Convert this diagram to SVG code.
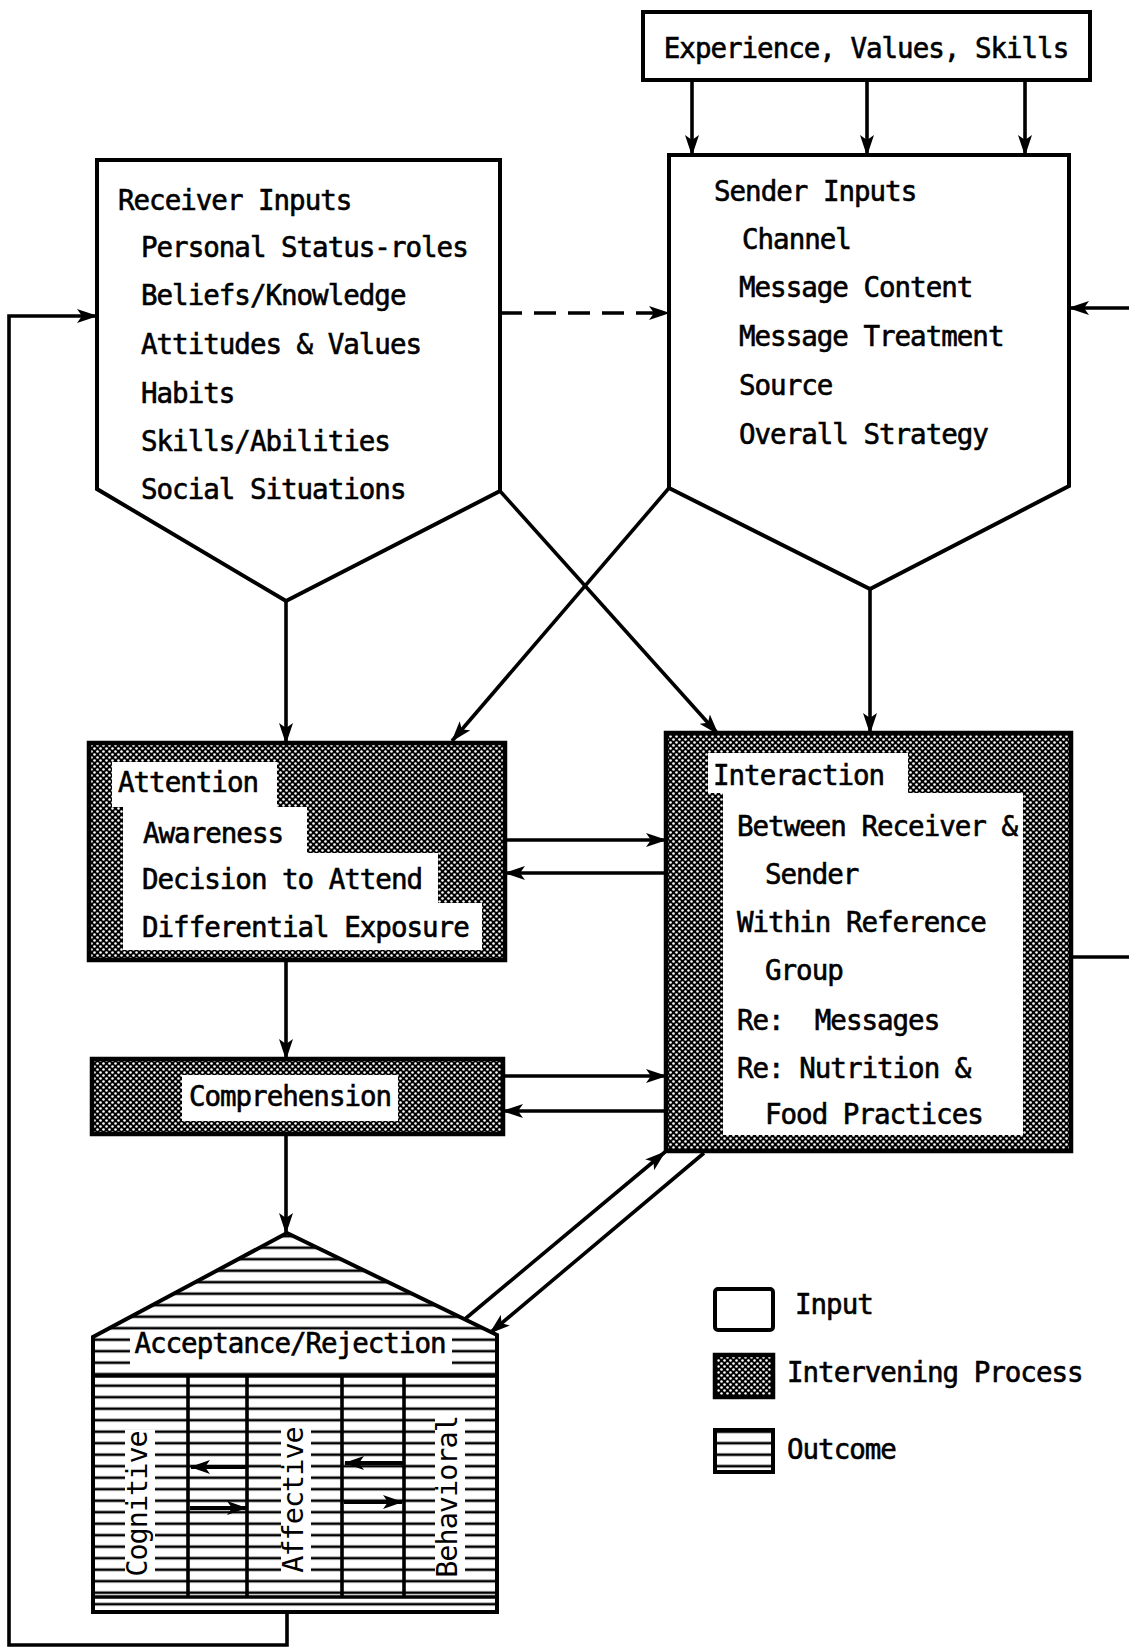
<svg xmlns="http://www.w3.org/2000/svg" width="1129" height="1648" viewBox="0 0 1129 1648">
  <style>
    .t { font-family: "DejaVu Sans Mono", "Liberation Mono", monospace; font-size: 27.5px; letter-spacing: -1px; fill: #000; stroke: #000; stroke-width: 0.6; }
    .box { fill: #fff; stroke: #000; stroke-width: 4; stroke-linejoin: miter; }
    .proc { fill: url(#dots); stroke: #000; stroke-width: 4.5; }
    .hole { fill: #fff; stroke: none; }
    .out { fill: url(#hatch); stroke: #000; stroke-width: 4; }
    .ln { fill: none; stroke: #000; stroke-width: 3.6; }
    .arr { fill: none; stroke: #000; stroke-width: 3.6; marker-end: url(#ah); }
    .arrs { fill: none; stroke: #000; stroke-width: 4; marker-end: url(#ahs); }
    .col { font-family: "DejaVu Sans Mono", "Liberation Mono", monospace; font-size: 28.5px; letter-spacing: -1px; fill: #000; }
  </style>
  <defs>
    <!-- halftone dot screen for intervening processes -->
    <pattern id="dots" patternUnits="userSpaceOnUse" width="6" height="6">
      <rect width="6" height="6" fill="#000"/>
      <circle cx="1.5" cy="1.5" r="1.3" fill="#fff"/>
      <circle cx="4.5" cy="4.5" r="1.3" fill="#fff"/>
    </pattern>
    <!-- horizontal ruling for outcomes -->
    <pattern id="hatch" patternUnits="userSpaceOnUse" width="12" height="11.5">
      <rect width="12" height="11.5" fill="#fff"/>
      <rect y="4.4" width="12" height="2.6" fill="#000"/>
    </pattern>
    <marker id="ah" viewBox="0 0 21 14" refX="20" refY="7" markerWidth="21" markerHeight="14" orient="auto" markerUnits="userSpaceOnUse">
      <path d="M0,0 L21,7 L0,14 L5,7 Z" fill="#000"/>
    </marker>
    <marker id="ahs" viewBox="0 0 20 14" refX="19" refY="7" markerWidth="20" markerHeight="14" orient="auto" markerUnits="userSpaceOnUse">
      <path d="M0,0 L20,7 L0,14 L5,7 Z" fill="#000"/>
    </marker>
  </defs>

  <!-- connectors -->
  <g id="connectors">
    <!-- experience to sender -->
    <line class="arr" x1="692" y1="80" x2="692" y2="155"/>
    <line class="arr" x1="867" y1="80" x2="867" y2="155"/>
    <line class="arr" x1="1025" y1="80" x2="1025" y2="155"/>
    <!-- receiver to sender (dashed) -->
    <line class="arr" x1="500" y1="313" x2="669" y2="313" stroke-dasharray="22,12"/>
    <!-- inputs down to processes -->
    <line class="arr" x1="286" y1="601" x2="286" y2="743"/>
    <line class="arr" x1="500" y1="491" x2="718" y2="734"/>
    <line class="arr" x1="669" y1="488" x2="452" y2="741"/>
    <line class="arr" x1="870" y1="589" x2="870" y2="733"/>
    <!-- attention <-> interaction -->
    <line class="arr" x1="505" y1="840" x2="666" y2="840"/>
    <line class="arr" x1="666" y1="873" x2="505" y2="873"/>
    <!-- comprehension <-> interaction -->
    <line class="arr" x1="503" y1="1076" x2="666" y2="1076"/>
    <line class="arr" x1="666" y1="1111" x2="503" y2="1111"/>
    <!-- vertical chain -->
    <line class="arr" x1="286" y1="960" x2="286" y2="1059"/>
    <line class="arr" x1="286" y1="1134" x2="286" y2="1233"/>
    <!-- interaction <-> acceptance -->
    <line class="arr" x1="465" y1="1319" x2="665" y2="1152"/>
    <line class="arr" x1="704" y1="1153" x2="490" y2="1333"/>
    <!-- feedback loops -->
    <polyline class="arr" points="287,1612 287,1645 9,1645 9,316 97,316"/>
    <line class="ln" x1="1071" y1="957" x2="1132" y2="957"/>
    <line class="arr" x1="1132" y1="308" x2="1069" y2="308"/>
  </g>

  <!-- Experience, Values, Skills -->
  <g id="experience">
    <rect class="box" x="643" y="12" width="447" height="68"/>
    <text class="t" x="866" y="58" text-anchor="middle">Experience, Values, Skills</text>
  </g>

  <!-- Receiver Inputs -->
  <g id="receiver">
    <polygon class="box" points="97,160 500,160 500,491 286,601 97,489"/>
    <text class="t" x="118" y="210">Receiver Inputs</text>
    <text class="t" x="141" y="257">Personal Status-roles</text>
    <text class="t" x="141" y="305">Beliefs/Knowledge</text>
    <text class="t" x="141" y="354">Attitudes &amp; Values</text>
    <text class="t" x="141" y="403">Habits</text>
    <text class="t" x="141" y="451">Skills/Abilities</text>
    <text class="t" x="141" y="499">Social Situations</text>
  </g>

  <!-- Sender Inputs -->
  <g id="sender">
    <polygon class="box" points="669,155 1069,155 1069,486 870,589 669,488"/>
    <text class="t" x="714" y="201">Sender Inputs</text>
    <text class="t" x="742" y="249">Channel</text>
    <text class="t" x="739" y="297">Message Content</text>
    <text class="t" x="739" y="346">Message Treatment</text>
    <text class="t" x="739" y="395">Source</text>
    <text class="t" x="739" y="444">Overall Strategy</text>
  </g>

  <!-- Attention -->
  <g id="attention">
    <rect class="proc" x="89" y="743" width="416" height="217"/>
    <path class="hole" d="M112,762 H277 V807 H307 V853 H438 V903 H482 V950 H123 V807 H112 Z"/>
    <text class="t" x="118" y="792">Attention</text>
    <text class="t" x="143" y="843">Awareness</text>
    <text class="t" x="142" y="889">Decision to Attend</text>
    <text class="t" x="142" y="937">Differential Exposure</text>
  </g>

  <!-- Interaction -->
  <g id="interaction">
    <rect class="proc" x="666" y="733" width="405" height="418"/>
    <path class="hole" d="M708,753 H908 V793 H1023 V1135 H723 V793 H708 Z"/>
    <text class="t" x="713" y="785">Interaction</text>
    <text class="t" x="737" y="836">Between Receiver &amp;</text>
    <text class="t" x="765" y="884">Sender</text>
    <text class="t" x="737" y="932">Within Reference</text>
    <text class="t" x="765" y="980">Group</text>
    <text class="t" x="737" y="1030" xml:space="preserve">Re:  Messages</text>
    <text class="t" x="737" y="1078">Re: Nutrition &amp;</text>
    <text class="t" x="765" y="1124">Food Practices</text>
  </g>

  <!-- Comprehension -->
  <g id="comprehension">
    <rect class="proc" x="92" y="1059" width="411" height="75"/>
    <rect class="hole" x="182" y="1075" width="216" height="46"/>
    <text class="t" x="290" y="1106" text-anchor="middle">Comprehension</text>
  </g>

  <!-- Acceptance/Rejection -->
  <g id="acceptance">
    <polygon class="out" points="287,1233 497,1335 497,1612 93,1612 93,1337"/>
    <rect class="hole" x="130" y="1330" width="322" height="36"/>
    <text class="t" x="290" y="1353" text-anchor="middle">Acceptance/Rejection</text>
    <line class="ln" x1="93" y1="1376" x2="497" y2="1376" stroke-width="4.5"/>
    <line class="ln" x1="93" y1="1597" x2="497" y2="1597" stroke-width="4.5"/>
    <line class="ln" x1="188" y1="1376" x2="188" y2="1597"/>
    <line class="ln" x1="247" y1="1376" x2="247" y2="1597"/>
    <line class="ln" x1="342" y1="1376" x2="342" y2="1597"/>
    <line class="ln" x1="404" y1="1376" x2="404" y2="1597"/>
    <!-- white gaps in the ruling behind the vertical labels -->
    <rect class="hole" x="125" y="1430" width="30" height="148"/>
    <rect class="hole" x="281" y="1426" width="30" height="148"/>
    <rect class="hole" x="435" y="1417" width="30" height="160"/>
    <text class="col" transform="translate(147,1504) rotate(-90)" text-anchor="middle">Cognitive</text>
    <text class="col" transform="translate(303,1500) rotate(-90)" text-anchor="middle">Affective</text>
    <text class="col" transform="translate(457,1497) rotate(-90)" text-anchor="middle">Behavioral</text>
    <line class="arrs" x1="246" y1="1467" x2="191" y2="1467"/>
    <line class="arrs" x1="190" y1="1508" x2="246" y2="1508"/>
    <line class="arrs" x1="403" y1="1463" x2="345" y2="1463"/>
    <line class="arrs" x1="344" y1="1502" x2="402" y2="1502"/>
  </g>

  <!-- legend -->
  <g id="legend">
    <rect class="box" x="715" y="1289" width="58" height="41" rx="3"/>
    <text class="t" x="795" y="1314">Input</text>
    <rect class="proc" x="715" y="1355" width="58" height="42"/>
    <text class="t" x="787" y="1382">Intervening Process</text>
    <rect class="out" x="715" y="1430" width="58" height="42"/>
    <text class="t" x="787" y="1459">Outcome</text>
  </g>
</svg>
